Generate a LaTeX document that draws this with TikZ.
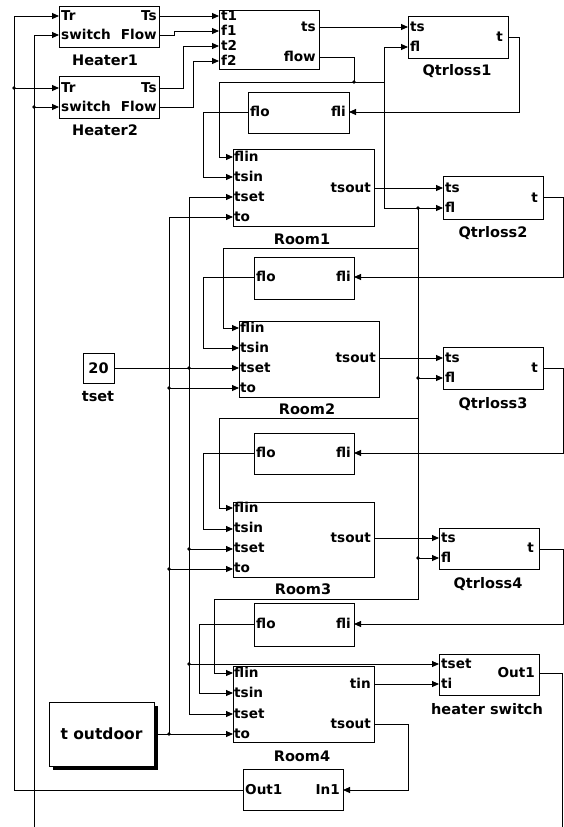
\documentclass[tikz,border=0pt]{standalone}
\usepackage{fontspec}
\setmainfont{DejaVu Sans}
\usetikzlibrary{arrows.meta,shadows}
\newcommand\plfont{\bfseries\fontsize{13.6}{13.6}\selectfont}
\newcommand\nmfont{\bfseries\fontsize{14.5}{14.5}\selectfont}
\newcommand\portL[4]{\node[pl] (#1) at (#2,#3) {#4};}
\newcommand\portR[4]{\node[pr] (#1) at (#2,#3) {#4};}
\begin{document}
\begin{tikzpicture}[x=1pt,y=-1pt,
  blk/.style={draw, line width=0.9pt, fill=white, inner sep=0, anchor=north west},
  pl/.style={font=\plfont, inner sep=0, anchor=base west, yshift=-4.9pt},
  pr/.style={font=\plfont, inner sep=0, anchor=base east, yshift=-4.9pt},
  nm/.style={font=\nmfont, inner sep=0, anchor=base, yshift=-5.3pt},
  wire/.style={line width=0.9pt},
  arr/.style={wire, -{Triangle[length=7pt,width=6pt]}},
  jdot/.style={circle, fill, inner sep=0, minimum size=3.6pt}]
\useasboundingbox (0,0) rectangle (564,827);
\fill[white] (0,0) rectangle (564,827);

% ---------- blocks ----------
\node[blk, minimum width=100pt, minimum height=41pt] (h1) at (59,6) {};
\node[blk, minimum width=100pt, minimum height=42pt] (h2) at (59,76) {};
\node[blk, minimum width=100pt, minimum height=59pt] (mix) at (219,10) {};
\node[blk, minimum width=100pt, minimum height=42pt] (q1) at (408,16) {};
\node[blk, minimum width=101pt, minimum height=41pt] (fb1) at (248,92) {};
\node[blk, minimum width=141pt, minimum height=77pt] (r1) at (233,149) {};
\node[blk, minimum width=100pt, minimum height=43pt] (q2) at (443,176) {};
\node[blk, minimum width=100pt, minimum height=42pt] (fb2) at (254,257) {};
\node[blk, minimum width=140pt, minimum height=76pt] (r2) at (239,321) {};
\node[blk, minimum width=31pt, minimum height=30pt] (tc) at (83,353) {};
\node[blk, minimum width=100pt, minimum height=42pt] (q3) at (443,347) {};
\node[blk, minimum width=100pt, minimum height=41pt] (fb3) at (254,433) {};
\node[blk, minimum width=141pt, minimum height=75pt] (r3) at (233,502) {};
\node[blk, minimum width=100pt, minimum height=41pt] (q4) at (439,528) {};
\node[blk, minimum width=100pt, minimum height=43pt] (fb4) at (254,603) {};
\node[blk, minimum width=141pt, minimum height=76pt] (r4) at (233,666) {};
\node[blk, minimum width=100pt, minimum height=41pt] (hs) at (439,654) {};
\node[blk, minimum width=105pt, minimum height=64pt,
      drop shadow={fill=black, opacity=1, shadow xshift=4pt, shadow yshift=-4pt}] (tout) at (49,702) {};
\node[blk, minimum width=100pt, minimum height=41pt] (oi) at (243,769) {};

% ---------- port labels ----------
\portL{lh1a}{61}{16}{Tr}      \portL{lh1b}{61}{35}{switch}
\portR{lh1c}{157}{16}{Ts}     \portR{lh1d}{157}{35}{Flow}
\portL{lh2a}{61}{88}{Tr}      \portL{lh2b}{61}{107}{switch}
\portR{lh2c}{157}{88}{Ts}     \portR{lh2d}{157}{107}{Flow}
\portL{lma}{221}{16}{t1} \portL{lmb}{221}{31}{f1} \portL{lmc}{221}{46}{t2} \portL{lmd}{221}{61}{f2}
\portR{lme}{316}{27}{ts} \portR{lmf}{316}{57}{flow}
\foreach \q/\x/\X/\y in {q1/408/508/27, q2/443/543/188, q3/443/543/358, q4/439/539/538}{
  \node[pl] (l\q a) at (\x+2,\y) {ts};
  \node[pl] (l\q b) at (\x+2,\y+20) {fl};
  \node[pr] (l\q c) at (\X-5,\y+10) {t};
}
\foreach \f/\x/\X/\y in {fb1/248/349/112, fb2/254/354/277, fb3/254/354/453, fb4/254/354/624}{
  \node[pl] (l\f a) at (\x+2,\y) {flo};
  \node[pr] (l\f b) at (\X-3,\y) {fli};
}
\foreach \r/\x/\X/\y/\o in {r1/233/374/157/188, r2/239/379/328/358, r3/233/374/508/538}{
  \node[pl] (l\r a) at (\x+1,\y) {flin};
  \node[pl] (l\r b) at (\x+1,\y+20) {tsin};
  \node[pl] (l\r c) at (\x+1,\y+40) {tset};
  \node[pl] (l\r d) at (\x+1,\y+60) {to};
  \node[pr] (l\r e) at (\X-3,\o) {tsout};
}
\portL{lr4a}{234}{673}{flin} \portL{lr4b}{234}{693}{tsin}
\portL{lr4c}{234}{714}{tset} \portL{lr4d}{234}{734}{to}
\portR{lr4e}{371}{684}{tin}  \portR{lr4f}{371}{724}{tsout}
\portL{lhsa}{441}{664}{tset} \portL{lhsb}{441}{684}{ti}
\portR{lhsc}{535}{673}{Out1}
\portL{loia}{245}{790}{Out1} \portR{loib}{340}{790}{In1}
\node[font=\bfseries\fontsize{14.5}{14.5}\selectfont, inner sep=0] (l20) at (98.5,368) {20};
\node[font=\bfseries\fontsize{15.5}{15.5}\selectfont, inner sep=0] (ltout) at (101.5,734) {t outdoor};

% ---------- block names ----------
\node[nm] (nh1) at (105,60) {Heater1};
\node[nm] (nh2) at (105,130) {Heater2};
\node[nm] (nq1) at (457,70) {Qtrloss1};
\node[nm] (nr1) at (302,239) {Room1};
\node[nm] (nq2) at (493,232) {Qtrloss2};
\node[nm] (nr2) at (307,409) {Room2};
\node[nm] (nq3) at (493,403) {Qtrloss3};
\node[nm] (nr3) at (303,589) {Room3};
\node[nm] (nq4) at (488,583) {Qtrloss4};
\node[nm] (nr4) at (302,756) {Room4};
\node[nm] (nhs) at (487,709) {heater switch};
\node[nm] (ntc) at (98,396) {tset};

% ---------- port coordinates ----------
\coordinate (h1tr) at (59,16);  \coordinate (h1sw) at (59,35);
\coordinate (h1ts) at (159,16); \coordinate (h1fl) at (159,35);
\coordinate (h2tr) at (59,88);  \coordinate (h2sw) at (59,107);
\coordinate (h2ts) at (159,88); \coordinate (h2fl) at (159,107);
\coordinate (mt1) at (219,16); \coordinate (mf1) at (219,31);
\coordinate (mt2) at (219,46); \coordinate (mf2) at (219,61);
\coordinate (mts) at (319,27); \coordinate (mflow) at (319,57);
\coordinate (q1ts) at (408,27); \coordinate (q1fl) at (408,47); \coordinate (q1t) at (508,37);
\coordinate (fb1o) at (248,112); \coordinate (fb1i) at (349,112);
\coordinate (r1flin) at (233,157); \coordinate (r1tsin) at (233,177);
\coordinate (r1tset) at (233,197); \coordinate (r1to) at (233,217); \coordinate (r1out) at (374,188);
\coordinate (q2ts) at (443,188); \coordinate (q2fl) at (443,208); \coordinate (q2t) at (543,197);
\coordinate (fb2o) at (254,277); \coordinate (fb2i) at (354,277);
\coordinate (r2flin) at (239,328); \coordinate (r2tsin) at (239,348);
\coordinate (r2tset) at (239,368); \coordinate (r2to) at (239,388); \coordinate (r2out) at (379,358);
\coordinate (tcout) at (114,368);
\coordinate (q3ts) at (443,358); \coordinate (q3fl) at (443,378); \coordinate (q3t) at (543,368);
\coordinate (fb3o) at (254,453); \coordinate (fb3i) at (354,453);
\coordinate (r3flin) at (233,508); \coordinate (r3tsin) at (233,529);
\coordinate (r3tset) at (233,549); \coordinate (r3to) at (233,569); \coordinate (r3out) at (374,538);
\coordinate (q4ts) at (439,538); \coordinate (q4fl) at (439,558); \coordinate (q4t) at (539,549);
\coordinate (fb4o) at (254,624); \coordinate (fb4i) at (354,624);
\coordinate (r4flin) at (233,673); \coordinate (r4tsin) at (233,693);
\coordinate (r4tset) at (233,714); \coordinate (r4to) at (233,734);
\coordinate (r4tin) at (374,684); \coordinate (r4out) at (374,724);
\coordinate (hstset) at (439,664); \coordinate (hsti) at (439,684); \coordinate (hsout) at (539,673);
\coordinate (toout) at (154,734);
\coordinate (oiout) at (243,790); \coordinate (oiin) at (343,790);
\coordinate (bot34) at (34,827); \coordinate (bot562) at (562,827);
\coordinate (jflow) at (384,82);

% ---------- junction dots ----------
\node[jdot] (dA) at (14,88) {};
\node[jdot] (dB) at (34,107) {};
\node[jdot] (dC) at (354,82) {};
\node[jdot] (dD) at (189,368) {};
\node[jdot] (dF) at (189,549) {};
\node[jdot] (dG) at (189,664) {};
\node[jdot] (dH) at (169,734) {};
\node[jdot] (dI) at (169,388) {};
\node[jdot] (dJ) at (169,569) {};
\node[jdot] (dK) at (418,208) {};
\node[jdot] (dL) at (418,378) {};
\node[jdot] (dM) at (418,558) {};

% ---------- wires ----------
\draw[arr] (oiout) -- (14,790) -- (14,16) -- (h1tr);
\draw[arr] (dA.center) -- (h2tr);
\draw[arr] (bot34) -- (34,35) -- (h1sw);
\draw[arr] (dB.center) -- (h2sw);
\draw[arr] (h1ts) -- (mt1);
\draw[arr] (h1fl) -- (174,35) -- (174,31) -- (mf1);
\draw[arr] (h2ts) -- (183,88) -- (183,46) -- (mt2);
\draw[arr] (h2fl) -- (193,107) -- (193,61) -- (mf2);
\draw[arr] (mts) -- (q1ts);
\draw[wire] (mflow) -- (354,57) -- (dC.center);
\draw[arr] (jflow) -- (219,82) |- (r1flin);
\draw[arr] (jflow) |- (q1fl);
\draw[arr] (jflow) |- (q2fl);
\draw[arr] (q1t) -- (519,37) -- (519,112) -- (fb1i);
\draw[arr] (fb1o) -- (203,112) |- (r1tsin);
\draw[arr] (tcout) -- (r2tset);
\draw[arr] (dG.center) |- (r1tset);
\draw[arr] (dG.center) |- (r4tset);
\draw[arr] (dF.center) -- (r3tset);
\draw[arr] (dG.center) -- (hstset);
\draw[arr] (toout) -- (r4to);
\draw[arr] (dH.center) |- (r1to);
\draw[arr] (dI.center) -- (r2to);
\draw[arr] (dJ.center) -- (r3to);
\draw[arr] (r1out) -- (q2ts);
\draw[arr] (q2t) -- (563,197) -- (563,277) -- (fb2i);
\draw[arr] (fb2o) -- (203,277) |- (r2tsin);
\draw[arr] (dK.center) -- (418,599) -- (214,599) |- (r4flin);
\draw[arr] (418,248) -- (223,248) |- (r2flin);
\draw[arr] (dL.center) -- (q3fl);
\draw[arr] (418,418) -- (219,418) |- (r3flin);
\draw[arr] (dM.center) -- (q4fl);
\draw[arr] (r2out) -- (q3ts);
\draw[arr] (q3t) -- (563,368) -- (563,453) -- (fb3i);
\draw[arr] (fb3o) -- (203,453) |- (r3tsin);
\draw[arr] (r3out) -- (q4ts);
\draw[arr] (q4t) -- (563,549) -- (563,624) -- (fb4i);
\draw[arr] (fb4o) -- (199,624) |- (r4tsin);
\draw[arr] (r4tin) -- (hsti);
\draw[arr] (r4out) -- (408,724) -- (408,790) -- (oiin);
\draw[wire] (hsout) -- (562,673) -- (bot562);
\end{tikzpicture}
\end{document}
